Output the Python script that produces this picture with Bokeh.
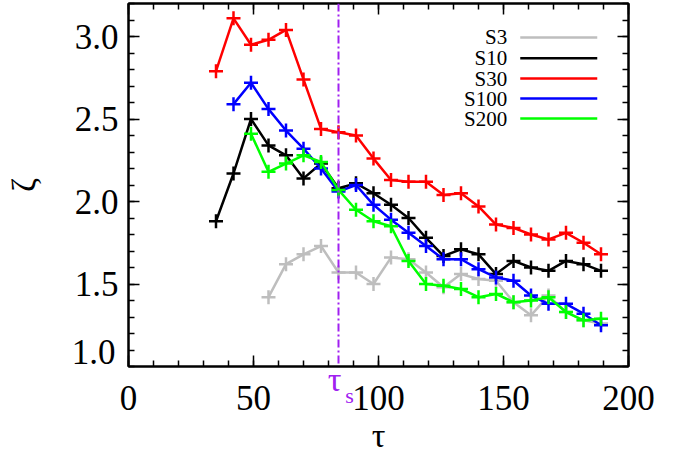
from bokeh.plotting import figure
from bokeh.models import (LinearAxis, Range1d, FixedTicker, Span,
                          PrintfTickFormatter, CustomJSTickFormatter)
from bokeh.core.properties import value
from bokeh.embed import file_html
from bokeh.resources import INLINE

# ---------------- data ----------------
tau_all = [35, 42, 49, 56, 63, 70, 77, 84, 91, 98, 105, 112, 119, 126, 133,
           140, 147, 154, 161, 168, 175, 182, 189]

tau_S3 = tau_all[3:]
zeta_S3 = [1.42, 1.62, 1.68, 1.73, 1.57, 1.57, 1.50, 1.66, 1.65, 1.57, 1.48,
           1.56, 1.53, 1.52, 1.39, 1.31, 1.43, 1.33, 1.28, 1.26]

tau_S10 = tau_all
zeta_S10 = [1.88, 2.17, 2.50, 2.34, 2.28, 2.14, 2.23, 2.08, 2.11, 2.05, 1.98,
            1.90, 1.78, 1.67, 1.71, 1.68, 1.56, 1.64, 1.60, 1.58, 1.64, 1.62, 1.58]

tau_S30 = tau_all
zeta_S30 = [2.79, 3.11, 2.95, 2.98, 3.04, 2.74, 2.44, 2.42, 2.40, 2.26, 2.13,
            2.12, 2.12, 2.04, 2.05, 1.97, 1.86, 1.84, 1.80, 1.77, 1.81, 1.75, 1.68]

tau_S100 = tau_all[1:]
zeta_S100 = [2.59, 2.72, 2.56, 2.43, 2.32, 2.20, 2.06, 2.10, 1.98, 1.89, 1.81,
             1.73, 1.65, 1.65, 1.59, 1.54, 1.52, 1.43, 1.38, 1.38, 1.32, 1.25]

tau_S200 = tau_all[2:]
zeta_S200 = [2.41, 2.18, 2.23, 2.28, 2.24, 2.07, 1.95, 1.88, 1.85, 1.64, 1.50,
             1.49, 1.47, 1.42, 1.44, 1.39, 1.40, 1.42, 1.33, 1.28, 1.29]

series_names = ["S3", "S10", "S30", "S100", "S200"]
series_colors = ["#BEBEBE", "#000000", "#FF0000", "#0000FF", "#00FF00"]
series_tau = [tau_S3, tau_S10, tau_S30, tau_S100, tau_S200]
series_zeta = [zeta_S3, zeta_S10, zeta_S30, zeta_S100, zeta_S200]

tau_s = 84
x_major = [0, 50, 100, 150, 200]
x_minor = [0, 10, 20, 30, 40, 50, 60, 70, 80, 90, 100, 110, 120, 130, 140,
           150, 160, 170, 180, 190, 200]
y_major = [1.5, 2.0, 2.5, 3.0]
y_minor = [1.0, 1.1, 1.2, 1.3, 1.4, 1.5, 1.6, 1.7, 1.8, 1.9, 2.0, 2.1, 2.2,
           2.3, 2.4, 2.5, 2.6, 2.7, 2.8, 2.9, 3.0, 3.1, 3.2]
y_bottom_label_pos = 1.085   # the "1.0" label sits a bit above the axis corner

FONT = "Liberation Serif"
PURPLE = "#A020F0"

# ---------------- figure ----------------
p = figure(frame_width=500, frame_height=363,
           x_range=Range1d(0, 200), y_range=Range1d(1.0, 3.2),
           min_border_left=128, min_border_right=36,
           min_border_top=3, min_border_bottom=86,
           output_backend="svg", toolbar_location=None,
           x_axis_label="τ")
p.grid.visible = False
p.outline_line_color = "black"
p.outline_line_width = 2
p.background_fill_color = "white"
p.border_fill_color = "white"

def style_axis(ax, ticker):
    ax.ticker = ticker
    ax.axis_line_width = 2
    ax.axis_line_color = "black"
    ax.major_tick_in = 11
    ax.major_tick_out = 0
    ax.minor_tick_in = 6
    ax.minor_tick_out = 0
    ax.major_tick_line_width = 1.5
    ax.minor_tick_line_width = 1.5
    ax.major_label_text_font = FONT
    ax.major_label_text_color = "black"

def label_only(ax):
    ax.axis_line_color = None
    ax.major_tick_line_color = None
    ax.minor_tick_line_color = None
    ax.major_tick_in = 0
    ax.minor_tick_in = 0

xa = p.xaxis[0]
ya = p.yaxis[0]
style_axis(xa, FixedTicker(ticks=x_major, minor_ticks=x_minor))
style_axis(ya, FixedTicker(ticks=y_major, minor_ticks=y_minor))
xa.major_label_text_font_size = "35px"
ya.major_label_text_font_size = "35px"
xa.major_label_standoff = 19
ya.major_label_standoff = 10
ya.formatter = PrintfTickFormatter(format="%.1f")
xa.axis_label_text_font = FONT
xa.axis_label_text_font_size = "34px"
xa.axis_label_text_font_style = "normal"
xa.axis_label_text_color = "black"
xa.axis_label_standoff = 4

# frame ticks on top and right
top = LinearAxis(formatter=CustomJSTickFormatter(code="return '';"),
                 major_label_standoff=0)
style_axis(top, FixedTicker(ticks=x_major, minor_ticks=x_minor))
p.add_layout(top, "above")
right = LinearAxis(formatter=CustomJSTickFormatter(code="return '';"),
                   major_label_standoff=0)
style_axis(right, FixedTicker(ticks=y_major, minor_ticks=y_minor))
p.add_layout(right, "right")

# second left axis: the lifted "1.0" label and the zeta axis title
left2 = LinearAxis()
style_axis(left2, FixedTicker(ticks=[y_bottom_label_pos], minor_ticks=[]))
label_only(left2)
left2.formatter = CustomJSTickFormatter(code="return '1.0';")
left2.major_label_text_font_size = "35px"
left2.major_label_standoff = -44
left2.axis_label = "ζ"
left2.axis_label_text_font = FONT
left2.axis_label_text_font_size = "34px"
left2.axis_label_text_font_style = "normal"
left2.axis_label_text_color = "black"
left2.axis_label_standoff = 27
p.add_layout(left2, "left")

# tau_s marker label (tau) just under the frame
bot2 = LinearAxis()
style_axis(bot2, FixedTicker(ticks=[tau_s - 1.6], minor_ticks=[]))
label_only(bot2)
bot2.formatter = CustomJSTickFormatter(code="return '\\u03c4';")
bot2.major_label_text_font_size = "34px"
bot2.major_label_text_color = PURPLE
bot2.major_label_standoff = -96
p.add_layout(bot2, "below")

# subscript s
bot3 = LinearAxis()
style_axis(bot3, FixedTicker(ticks=[tau_s + 4.4], minor_ticks=[]))
label_only(bot3)
bot3.formatter = CustomJSTickFormatter(code="return 's';")
bot3.major_label_text_font_size = "22px"
bot3.major_label_text_color = PURPLE
bot3.major_label_standoff = -74
p.add_layout(bot3, "below")

# ---------------- series ----------------
for name, col, tx, zy in zip(series_names, series_colors, series_tau, series_zeta):
    p.line(tx, zy, line_color=col, line_width=2.5)
    p.scatter(tx, zy, marker="cross", size=14, line_color=col, line_width=2.5)

# tau_s vertical line
p.add_layout(Span(location=tau_s, dimension="height", line_color=PURPLE,
                  line_width=2, line_dash="8 3 2 3"))

# ---------------- legend (text left, line right) ----------------
leg_x_text = 151.5
leg_x0, leg_x1 = 156.7, 187.5
leg_y = [2.994, 2.868, 2.745, 2.624, 2.503]
for name, col, ly in zip(series_names, series_colors, leg_y):
    p.text(x=[leg_x_text], y=[ly], text=[name], text_font=value(FONT),
           text_font_size="21px", text_align="right", text_baseline="middle",
           text_color="black")
    p.segment(x0=[leg_x0], y0=[ly], x1=[leg_x1], y1=[ly], line_color=col,
              line_width=2.5)

open("out.html", "w", encoding="utf-8").write(file_html(p, INLINE))
